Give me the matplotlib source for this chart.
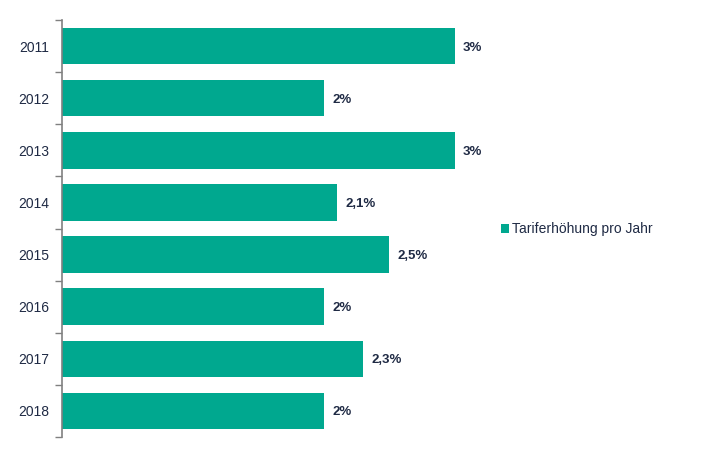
import numpy as np
import matplotlib.pyplot as plt
from matplotlib.patches import Patch

plt.rcParams['font.family'] = ['Liberation Sans', 'DejaVu Sans']

# data
years = ['2011', '2012', '2013', '2014', '2015', '2016', '2017', '2018']
values = [3.0, 2.0, 3.0, 2.1, 2.5, 2.0, 2.3, 2.0]
labels = ['3%', '2%', '3%', '2,1%', '2,5%', '2%', '2,3%', '2%']
series_name = 'Tariferhöhung pro Jahr'

bar_color = '#00A88F'
text_color = '#1F2A44'
axis_color = '#808080'

fig = plt.figure(figsize=(7.22, 4.62), dpi=100)
ax = fig.add_axes([62 / 722, 25 / 462, 458 / 722, 417 / 462])

y = np.arange(len(years))
ax.barh(y, values, height=0.7, color=bar_color)

for yi, v, lab in zip(y, values, labels):
    ax.text(v + 0.065, yi, lab, va='center_baseline', ha='left', fontsize=9.5,
            fontweight='bold', color=text_color)

ax.set_xlim(0, 3.5)
ax.set_ylim(len(years) - 0.5, -0.5)

# boundary ticks on the left spine, labels at category centres
ax.set_yticks(np.arange(-0.5, len(years), 1.0))
ax.set_yticklabels([])
ax.set_yticks(y, minor=True)
ax.set_yticklabels(years, minor=True, va='center_baseline')
ax.tick_params(axis='y', which='major', length=5, color=axis_color, width=1)
ax.tick_params(axis='y', which='minor', length=0, pad=9, labelsize=10,
               labelcolor=text_color)

ax.xaxis.set_visible(False)
for s in ['top', 'right', 'bottom']:
    ax.spines[s].set_visible(False)
ax.spines['left'].set_color(axis_color)
ax.spines['left'].set_linewidth(1.2)

handle = Patch(facecolor=bar_color, edgecolor='none')
fig.legend([handle], [series_name], loc='center left',
           bbox_to_anchor=(488 / 722, 1 - 229 / 462), frameon=False,
           fontsize=10, labelcolor=text_color, handlelength=0.6,
           handleheight=0.6, handletextpad=0.2)

fig.savefig('out.png', dpi=100)
